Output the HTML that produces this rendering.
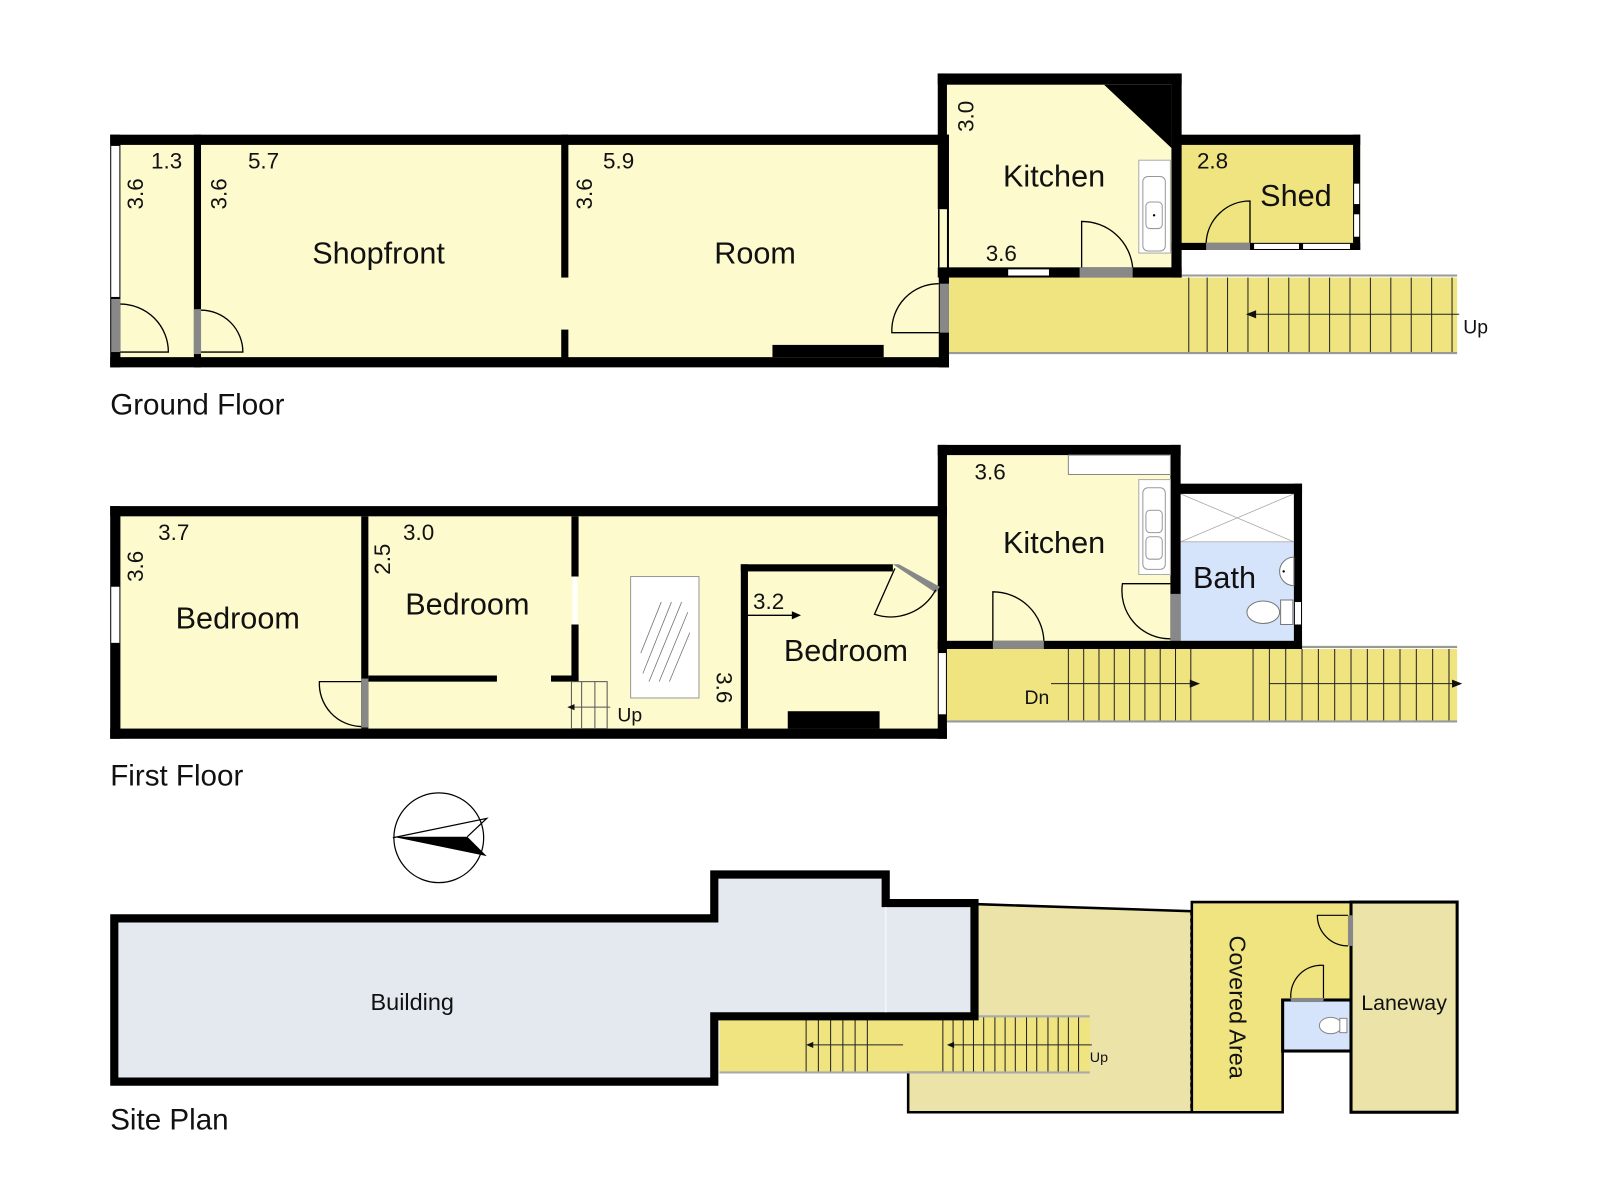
<!DOCTYPE html>
<html><head><meta charset="utf-8"><style>
html,body{margin:0;padding:0;background:#fff;}
svg{display:block;}
text{font-family:"Liberation Sans",Arial,sans-serif;fill:#111;}
</style></head><body>
<svg width="1600" height="1200" viewBox="0 0 1568 1176" xmlns="http://www.w3.org/2000/svg">
<rect width="1568" height="1176" fill="#fff"/>
<!-- ================= GROUND FLOOR ================= -->
<rect x="930" y="272" width="498" height="73" fill="#efe480"/>
<line x1="930" y1="270" x2="1428" y2="270" stroke="#999" stroke-width="2"/>
<line x1="930" y1="346" x2="1428" y2="346" stroke="#999" stroke-width="2"/>
<line x1="1165" y1="272" x2="1165" y2="345" stroke="#222" stroke-width="1"/>
<g stroke="#222" stroke-width="1">
<line x1="1183" y1="272" x2="1183" y2="345"/><line x1="1203" y1="272" x2="1203" y2="345"/><line x1="1223" y1="272" x2="1223" y2="345"/><line x1="1243" y1="272" x2="1243" y2="345"/><line x1="1263" y1="272" x2="1263" y2="345"/><line x1="1283" y1="272" x2="1283" y2="345"/><line x1="1303" y1="272" x2="1303" y2="345"/><line x1="1323" y1="272" x2="1323" y2="345"/><line x1="1343" y1="272" x2="1343" y2="345"/><line x1="1363" y1="272" x2="1363" y2="345"/><line x1="1383" y1="272" x2="1383" y2="345"/><line x1="1403" y1="272" x2="1403" y2="345"/><line x1="1423" y1="272" x2="1423" y2="345"/>
<line x1="1230" y1="308" x2="1430" y2="308"/>
</g>
<polygon points="1221,308 1231,304 1231,312" fill="#111"/>
<text x="1434" y="327" font-size="19">Up</text>
<rect x="108" y="132" width="822" height="228" fill="#fdfbcd"/>
<rect x="919" y="72" width="239" height="200" fill="#fdfbcd"/>
<rect x="1148" y="132" width="185" height="113" fill="#efe480"/>
<g fill="#000">
<rect x="108" y="132" width="822" height="10"/>
<rect x="108" y="350" width="822" height="10"/>
<rect x="108" y="132" width="10" height="228"/>
<rect x="190" y="132" width="7" height="228"/>
<rect x="550" y="132" width="7" height="140"/>
<rect x="550" y="323" width="7" height="30"/>
<rect x="920" y="132" width="10" height="228"/>
<rect x="757" y="338" width="109" height="12"/>
<rect x="919" y="72" width="239" height="11"/>
<rect x="919" y="72" width="9" height="133"/>
<rect x="1148" y="72" width="10" height="200"/>
<rect x="919" y="262" width="239" height="10"/>
<polygon points="1082,83 1148,83 1148,145"/>
<rect x="1148" y="132" width="185" height="10"/>
<rect x="1326" y="132" width="7" height="113"/>
<rect x="1148" y="238" width="185" height="7"/>
</g>
<rect x="109" y="143" width="8" height="148" fill="#fff"/>
<rect x="109" y="293" width="9" height="52" fill="#888"/>
<rect x="190" y="303" width="7" height="44" fill="#888"/>
<rect x="921" y="278" width="9" height="48" fill="#888"/>
<rect x="920" y="205" width="8" height="57" fill="#fdfbcd"/>
<line x1="920" y1="205" x2="920" y2="262" stroke="#000" stroke-width="1.5"/>
<rect x="988" y="264" width="40" height="6" fill="#fff"/>
<rect x="1058" y="262" width="52" height="10" fill="#888"/>
<rect x="1182" y="238" width="43" height="7" fill="#888"/>
<rect x="1229" y="239" width="44" height="5" fill="#fff"/>
<rect x="1277" y="239" width="46" height="5" fill="#fff"/>
<rect x="1327" y="180" width="5" height="20" fill="#fff"/>
<rect x="1327" y="210" width="5" height="22" fill="#fff"/>
<g fill="none" stroke="#000" stroke-width="1.3">
<path d="M118 345 L165 345 A47 47 0 0 0 118 298"/>
<path d="M197 345 L238 345 A41 41 0 0 0 197 304"/>
<path d="M920 278 A46 46 0 0 0 874 326 L920 326"/>
<path d="M1060 262 L1060 217 A50 50 0 0 1 1110 262"/>
<path d="M1225 238 L1225 197 A43 43 0 0 0 1182 238"/>
</g>
<rect x="1116" y="157" width="31" height="91" fill="#fff" stroke="#aaa"/>
<rect x="1120" y="173" width="22" height="73" rx="5" fill="none" stroke="#999"/>
<rect x="1123" y="198" width="16" height="26" rx="4" fill="none" stroke="#999"/>
<circle cx="1131" cy="211" r="1.2" fill="#000"/>
<g font-size="22">
<text x="148" y="165">1.3</text>
<text x="243" y="165">5.7</text>
<text x="591" y="165">5.9</text>
<text x="966" y="256">3.6</text>
<text x="1173" y="165">2.8</text>
<text transform="translate(140,190) rotate(-90)" text-anchor="middle">3.6</text>
<text transform="translate(222,190) rotate(-90)" text-anchor="middle">3.6</text>
<text transform="translate(580,190) rotate(-90)" text-anchor="middle">3.6</text>
<text transform="translate(954,114) rotate(-90)" text-anchor="middle">3.0</text>
</g>
<g font-size="30" text-anchor="middle">
<text x="371" y="258">Shopfront</text>
<text x="740" y="258">Room</text>
<text x="1033" y="183">Kitchen</text>
<text x="1270" y="202">Shed</text>
</g>
<text x="108" y="406" font-size="29">Ground Floor</text>

<!-- ================= FIRST FLOOR ================= -->
<rect x="928" y="636" width="500" height="70" fill="#efe480"/>
<line x1="928" y1="634" x2="1428" y2="634" stroke="#999" stroke-width="2"/>
<line x1="928" y1="707" x2="1428" y2="707" stroke="#999" stroke-width="2"/>
<g stroke="#222" stroke-width="1">
<line x1="1047" y1="636" x2="1047" y2="706"/><line x1="1062" y1="636" x2="1062" y2="706"/><line x1="1077" y1="636" x2="1077" y2="706"/><line x1="1092" y1="636" x2="1092" y2="706"/><line x1="1107" y1="636" x2="1107" y2="706"/><line x1="1122" y1="636" x2="1122" y2="706"/><line x1="1137" y1="636" x2="1137" y2="706"/><line x1="1152" y1="636" x2="1152" y2="706"/><line x1="1167" y1="636" x2="1167" y2="706"/>
<line x1="1228" y1="636" x2="1228" y2="706"/><line x1="1244" y1="636" x2="1244" y2="706"/><line x1="1260" y1="636" x2="1260" y2="706"/><line x1="1276" y1="636" x2="1276" y2="706"/><line x1="1292" y1="636" x2="1292" y2="706"/><line x1="1308" y1="636" x2="1308" y2="706"/><line x1="1324" y1="636" x2="1324" y2="706"/><line x1="1340" y1="636" x2="1340" y2="706"/><line x1="1356" y1="636" x2="1356" y2="706"/><line x1="1372" y1="636" x2="1372" y2="706"/><line x1="1388" y1="636" x2="1388" y2="706"/><line x1="1404" y1="636" x2="1404" y2="706"/><line x1="1420" y1="636" x2="1420" y2="706"/>
<line x1="1030" y1="670" x2="1168" y2="670"/>
<line x1="1244" y1="670" x2="1424" y2="670"/>
</g>
<polygon points="1176,670 1166,666 1166,674" fill="#111"/>
<polygon points="1433,670 1423,666 1423,674" fill="#111"/>
<text x="1004" y="690" font-size="19">Dn</text>
<rect x="108" y="496" width="820" height="228" fill="#fdfbcd"/>
<rect x="919" y="436" width="238" height="200" fill="#fdfbcd"/>
<rect x="1147" y="474" width="129" height="162" fill="#d6e4fb"/>
<rect x="1157" y="484" width="111" height="47" fill="#fff"/>
<g stroke="#aaa" stroke-width="0.8"><line x1="1157" y1="484" x2="1268" y2="531"/><line x1="1268" y1="484" x2="1157" y2="531"/><line x1="1157" y1="531" x2="1268" y2="531"/></g>
<g fill="#000">
<rect x="108" y="496" width="820" height="10"/>
<rect x="108" y="714" width="820" height="10"/>
<rect x="108" y="496" width="10" height="228"/>
<rect x="354" y="506" width="7" height="208"/>
<rect x="560" y="506" width="7" height="59"/>
<rect x="560" y="612" width="7" height="55"/>
<rect x="361" y="662" width="126" height="6"/>
<rect x="540" y="662" width="27" height="6"/>
<rect x="726" y="553" width="7" height="161"/>
<rect x="726" y="553" width="149" height="7"/>
<rect x="919" y="496" width="9" height="228"/>
<rect x="772" y="697" width="90" height="17"/>
<rect x="919" y="436" width="238" height="10"/>
<rect x="919" y="436" width="9" height="70"/>
<rect x="1147" y="436" width="10" height="200"/>
<rect x="919" y="628" width="357" height="8"/>
<rect x="1147" y="474" width="129" height="10"/>
<rect x="1268" y="474" width="8" height="162"/>
</g>
<rect x="109" y="575" width="8" height="55" fill="#fff"/>
<rect x="561" y="565" width="5" height="47" fill="#fff"/>
<rect x="920" y="640" width="7" height="60" fill="#fff"/>
<rect x="1269" y="590" width="6" height="22" fill="#fff"/>
<rect x="354" y="665" width="7" height="48" fill="#888"/>
<rect x="973" y="628" width="50" height="8" fill="#888"/>
<rect x="1147" y="582" width="10" height="46" fill="#888"/>
<polygon points="875,553 881,553 921,575 917,581" fill="#888"/>
<g fill="none" stroke="#000" stroke-width="1.3">
<path d="M354 712 A42 42 0 0 1 313 668 L354 668"/>
<path d="M973 628 L973 580 A50 50 0 0 1 1023 628"/>
<path d="M1147 626 A47 47 0 0 1 1100 572 L1147 572"/>
<path d="M877 557 L857 602 A50 50 0 0 0 917 578"/>
</g>
<g stroke="#555" stroke-width="1" fill="none">
<rect x="560" y="668" width="35" height="46"/>
<line x1="570" y1="668" x2="570" y2="714"/><line x1="583" y1="668" x2="583" y2="714"/>
<line x1="560" y1="693" x2="598" y2="693"/>
</g>
<polygon points="556,693 563,690 563,696" fill="#111"/>
<text x="605" y="707" font-size="19">Up</text>
<rect x="618" y="565" width="67" height="119" fill="#fff" stroke="#999"/>
<g stroke="#777" stroke-width="0.8">
<line x1="628" y1="640" x2="648" y2="590"/><line x1="630" y1="660" x2="658" y2="590"/><line x1="636" y1="668" x2="668" y2="590"/><line x1="646" y1="668" x2="674" y2="600"/><line x1="656" y1="668" x2="676" y2="620"/>
</g>
<rect x="1047" y="446" width="100" height="19" fill="#fff" stroke="#888"/>
<rect x="1116" y="470" width="31" height="93" fill="#fff" stroke="#aaa"/>
<rect x="1120" y="478" width="22" height="80" rx="5" fill="none" stroke="#999"/>
<rect x="1123" y="500" width="16" height="22" rx="4" fill="none" stroke="#999"/>
<rect x="1123" y="526" width="16" height="22" rx="4" fill="none" stroke="#999"/>
<ellipse cx="1238" cy="600" rx="16" ry="11" fill="#fff" stroke="#777"/>
<rect x="1255" y="588" width="12" height="24" fill="#fff" stroke="#777"/>
<path d="M1268 546 A14 14 0 1 0 1268 574 Z" fill="#fff" stroke="#777"/>
<circle cx="1258" cy="560" r="1.2" fill="#000"/>
<line x1="733" y1="603" x2="778" y2="603" stroke="#000" stroke-width="1.3"/>
<polygon points="785,603 776,599 776,607" fill="#000"/>
<g font-size="22">
<text x="155" y="529">3.7</text>
<text x="395" y="529">3.0</text>
<text x="738" y="597">3.2</text>
<text x="955" y="470">3.6</text>
<text transform="translate(140,555) rotate(-90)" text-anchor="middle">3.6</text>
<text transform="translate(382,548) rotate(-90)" text-anchor="middle">2.5</text>
<text transform="translate(702,674) rotate(90)" text-anchor="middle">3.6</text>
</g>
<g font-size="30" text-anchor="middle">
<text x="233" y="616">Bedroom</text>
<text x="458" y="602">Bedroom</text>
<text x="829" y="648">Bedroom</text>
<text x="1033" y="542">Kitchen</text>
<text x="1200" y="576">Bath</text>
</g>
<text x="108" y="770" font-size="29">First Floor</text>

<circle cx="430" cy="821" r="44" fill="none" stroke="#000" stroke-width="1.2"/>
<polyline points="385,821 477,802 458,820" fill="none" stroke="#000" stroke-width="1.2"/>
<polygon points="385,820 458,820 477,839" fill="#000"/>

<!-- ================= SITE PLAN ================= -->
<polygon points="955,886 1168,893 1168,1090 890,1090 890,1050 955,1050" fill="#ece3a8" stroke="#000" stroke-width="2.5"/>
<polygon points="1168,884 1324,884 1324,980 1257,980 1257,1090 1168,1090" fill="#efe480" stroke="#000" stroke-width="2.5"/>
<line x1="1167" y1="893" x2="1167" y2="1088" stroke="#000" stroke-width="1.2" stroke-dasharray="4,3"/>
<rect x="1257" y="980" width="67" height="50" fill="#d6e4fb" stroke="#000" stroke-width="3"/>
<rect x="1265" y="978" width="32" height="4" fill="#888"/>
<rect x="1324" y="884" width="104" height="206" fill="#ece3a8" stroke="#000" stroke-width="3"/>
<rect x="1321" y="897" width="5" height="30" fill="#888"/>
<g fill="none" stroke="#000" stroke-width="1.2">
<path d="M1265 978 A30 30 0 0 1 1297 946 L1297 978"/>
<path d="M1321 927 A30 30 0 0 1 1291 897 L1321 897"/>
</g>
<ellipse cx="1304" cy="1005" rx="11" ry="8" fill="#fff" stroke="#888"/>
<rect x="1313" y="998" width="7" height="14" fill="#fff" stroke="#888"/>
<rect x="705" y="997" width="363" height="53" fill="#efe480"/>
<line x1="705" y1="996" x2="1068" y2="996" stroke="#aaa" stroke-width="2"/>
<line x1="705" y1="1051" x2="1068" y2="1051" stroke="#aaa" stroke-width="2"/>
<g stroke="#222" stroke-width="1">
<line x1="790" y1="997" x2="790" y2="1050"/><line x1="802" y1="997" x2="802" y2="1050"/><line x1="814" y1="997" x2="814" y2="1050"/><line x1="826" y1="997" x2="826" y2="1050"/><line x1="838" y1="997" x2="838" y2="1050"/><line x1="850" y1="997" x2="850" y2="1050"/>
<line x1="924" y1="997" x2="924" y2="1050"/><line x1="934" y1="997" x2="934" y2="1050"/><line x1="944" y1="997" x2="944" y2="1050"/><line x1="954" y1="997" x2="954" y2="1050"/><line x1="964" y1="997" x2="964" y2="1050"/><line x1="975" y1="997" x2="975" y2="1050"/><line x1="985" y1="997" x2="985" y2="1050"/><line x1="995" y1="997" x2="995" y2="1050"/><line x1="1006" y1="997" x2="1006" y2="1050"/><line x1="1016" y1="997" x2="1016" y2="1050"/><line x1="1027" y1="997" x2="1027" y2="1050"/><line x1="1037" y1="997" x2="1037" y2="1050"/><line x1="1047" y1="997" x2="1047" y2="1050"/><line x1="1057" y1="997" x2="1057" y2="1050"/>
<line x1="792" y1="1024" x2="885" y2="1024"/>
<line x1="930" y1="1024" x2="1070" y2="1024"/>
</g>
<polygon points="790,1024 797,1021 797,1027" fill="#111"/>
<polygon points="928,1024 935,1021 935,1027" fill="#111"/>
<text x="1068" y="1041" font-size="14">Up</text>
<polygon points="112,900 700,900 700,857 868,857 868,885 955,885 955,996 700,996 700,1060 112,1060" fill="#e4e9f0" stroke="#000" stroke-width="8" stroke-linejoin="miter"/>
<line x1="868" y1="889" x2="868" y2="992" stroke="#f4f6f8" stroke-width="1.5"/>
<text x="404" y="990" font-size="23" text-anchor="middle">Building</text>
<text transform="translate(1205,987) rotate(90)" font-size="23" text-anchor="middle">Covered Area</text>
<text x="1376" y="990" font-size="21" text-anchor="middle">Laneway</text>
<text x="108" y="1107" font-size="29">Site Plan</text>
</svg>
</body></html>
